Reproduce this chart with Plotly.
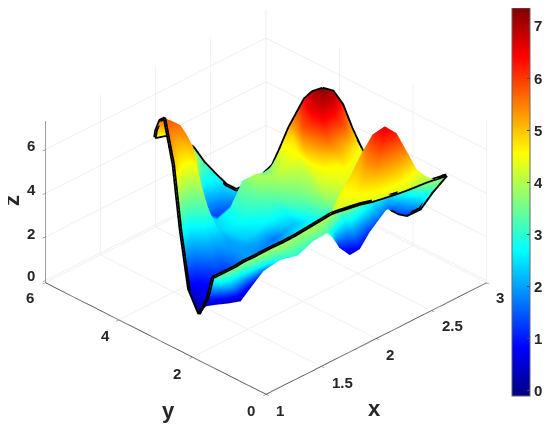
import plotly.graph_objects as go

# x and y of each surface point (hundredths), one line per column of the mesh
xy_columns = [
[116,193,134,261,139,299,144,342,151,386,164,444,186,534,188,552,189,566,190,572],
[116,187,134,249,140,283,151,336,160,387,173,448,189,522,191,529,195,547,198,562],
[115,175,130,230,149,282,155,322,165,378,178,446,191,506,196,522,200,535,204,547],
[116,169,134,219,156,273,159,313,168,369,181,437,189,482,200,515,206,532,209,541],
[119,163,140,211,165,264,166,307,169,354,174,397,189,465,197,491,205,514,212,534],
[124,157,149,208,175,260,170,292,174,341,177,389,194,470,203,489,210,506,215,513],
[132,157,150,184,174,229,173,274,179,336,177,370,184,418,202,471,210,477,217,485],
[140,153,155,166,170,172,192,285,182,303,179,341,183,383,210,461,216,468,219,465],
[147,151,163,156,178,148,208,300,192,298,189,330,191,371,220,456,219,447,221,444],
[155,148,171,146,194,154,215,280,203,299,204,341,207,385,226,442,228,439,226,422],
[164,147,187,155,201,150,220,276,212,312,211,338,212,367,228,412,230,413,232,406],
[176,148,194,149,206,151,221,253,216,289,215,325,216,357,229,386,235,395,236,390],
[196,153,203,155,214,162,223,235,221,272,220,309,218,331,228,357,234,370,240,382],
[209,151,209,150,243,229,226,215,228,248,236,306,240,333,247,368,246,374,248,381],
[212,143,224,170,251,225,227,194,229,236,236,276,237,306,241,325,250,351,255,360],
[217,136,238,185,255,210,230,175,233,213,239,257,240,279,242,298,247,318,255,339],
[221,130,256,205,267,219,236,173,239,202,246,246,243,261,245,279,251,299,255,311],
[227,126,260,190,275,217,250,190,244,198,248,230,251,259,255,278,258,292,263,307],
[235,117,263,166,284,226,271,225,260,220,256,228,259,256,260,267,267,292,271,305],
[245,110,270,155,287,229,294,251,286,250,274,242,273,258,274,273,273,278,273,285],
[254,104,274,139,288,229,292,235,290,246,283,245,279,251,278,257,276,261,275,262],
[264,106,278,124,289,230,295,228,294,239,291,244,287,242,285,243,281,241,279,241],
[276,115,284,121,291,230,291,230,291,234,291,238,291,240,291,244,291,245,291,245],
[283,116,286,112,291,229,291,229,291,229,291,229,291,229,291,229,291,229,291,229],
[287,114,290,112,293,217,293,217,293,217,293,217,293,217,293,217,293,217,293,217],
[291,111,291,110,297,208,297,208,297,208,297,208,297,208,297,208,297,208,297,208],
[294,109,294,109,295,166,295,166,295,166,295,166,295,166,295,166,295,166,295,166],
[298,111,298,111,296,136,296,136,296,136,296,136,296,136,296,136,296,136,296,136],
[300,109,300,109,300,109,300,109,300,109,300,109,300,109,300,109,300,109,300,109],
]
z_columns = [
[3.2,1.2,.05,.7,2.9,5.0,5.8,5.5,4.9,4.5],
[3.3,1.6,.5,.9,2.6,4.4,5.7,5.3,4.8,4.5],
[3.5,2.0,.35,1.0,2.7,4.3,5.6,5.0,4.6,4.3],
[3.6,2.0,.3,1.1,2.7,4.2,5.4,4.6,4.2,4.0],
[3.7,2.0,.25,1.2,2.2,3.9,5.0,4.5,4.1,3.8],
[3.8,2.2,.8,1.6,2.1,3.2,3.8,3.5,3.3,3.2],
[3.85,2.8,1.7,2.0,2.0,2.4,2.4,1.6,2.5,2.8],
[3.9,3.3,2.8,1.8,2.3,2.5,2.5,1.3,2.2,2.5],
[3.95,3.5,3.0,1.7,2.5,2.8,2.9,1.6,2.2,2.4],
[4.0,3.6,3.2,2.2,2.8,3.3,3.6,2.7,2.6,2.7],
[4.0,3.6,3.3,2.3,3.2,3.7,4.0,3.2,3.0,3.1],
[4.0,3.7,3.3,2.6,3.3,3.6,3.9,3.5,3.45,3.6],
[4.0,3.9,2.8,2.9,3.3,3.7,3.9,4.0,4.2,4.3],
[4.1,4.15,1.0,3.5,3.8,4.1,4.6,4.8,5.0,5.1],
[4.2,4.5,.5,3.6,4.1,4.5,5.0,5.8,6.1,6.4],
[4.25,4.8,.8,3.7,4.2,4.6,5.3,6.0,6.6,6.9],
[4.3,5.3,1.2,3.8,4.3,4.6,5.6,6.4,6.9,7.3],
[4.3,6.1,1.6,3.5,4.3,4.6,5.4,6.3,6.8,7.0],
[4.3,6.6,1.7,2.9,3.9,4.4,5.0,5.8,6.0,6.2],
[4.3,6.2,1.65,1.6,2.5,3.8,4.4,4.7,5.0,5.2],
[4.3,5.4,1.6,1.6,2.1,3.1,3.6,3.9,4.1,4.3],
[4.2,4.6,1.55,1.4,1.7,2.1,2.5,2.7,2.85,3.0],
[4.0,4.2,1.5,1.5,1.5,1.5,1.55,1.55,1.6,1.6],
[3.95,4.1,1.5,1.5,1.5,1.5,1.5,1.5,1.5,1.5],
[3.95,3.95,1.4,1.4,1.4,1.4,1.4,1.4,1.4,1.4],
[3.95,3.95,1.3,1.3,1.3,1.3,1.3,1.3,1.3,1.3],
[3.95,3.95,2.0,2.0,2.0,2.0,2.0,2.0,2.0,2.0],
[3.9,3.9,3.0,3.0,3.0,3.0,3.0,3.0,3.0,3.0],
[3.9,3.9,3.9,3.9,3.9,3.9,3.9,3.9,3.9,3.9],
]
x_ticks = [1, 1.5, 2, 2.5, 3]
y_ticks = [0, 2, 4, 6]
z_ticks = [0, 2, 4, 6]
bar_ticks = [0, 1, 2, 3, 4, 5, 6, 7]

X = [[c[2 * r] / 100 for c in xy_columns] for r in range(10)]
Y = [[c[2 * r + 1] / 100 for c in xy_columns] for r in range(10)]
Z = [[c[r] for c in z_columns] for r in range(10)]

jet = [[0, 'rgb(0,0,130)'], [.125, 'rgb(0,0,255)'], [.375, 'rgb(0,255,255)'],
       [.625, 'rgb(255,255,0)'], [.875, 'rgb(255,0,0)'], [1, 'rgb(128,0,0)']]
FONT = 'Liberation Sans'
INK = '#262626'
W, H = 542, 419

fig = go.Figure()
fig.add_trace(go.Surface(
    x=X, y=Y, z=Z, colorscale=jet, cmin=-.1, cmax=7.35, hoverinfo='skip',
    lighting=dict(ambient=1, diffuse=0, specular=0, roughness=1, fresnel=0),
    colorbar=dict(x=504 / W, xanchor='left', xpad=0, ypad=0, y=1, yanchor='top',
                  lenmode='pixels', len=388, thicknessmode='pixels', thickness=18,
                  tickvals=bar_ticks, ticktext=[str(i) for i in bar_ticks], ticks='inside', ticklen=3,
                  tickcolor='#444', outlinecolor='#666', outlinewidth=1,
                  tickfont=dict(family=FONT, size=15, color=INK, weight='bold'))))
edges = [(X[0], Y[0], Z[0]), (X[9], Y[9], Z[9]),
         ([r[0] for r in X], [r[0] for r in Y], [r[0] for r in Z])]
for xs, ys, zs in edges:
    fig.add_trace(go.Scatter3d(x=xs, y=ys, z=zs, mode='lines', line=dict(color='black', width=7),
                               showlegend=False, hoverinfo='skip'))

def ax(rng, tv):
    return dict(range=rng, tickvals=tv, showbackground=False, showgrid=True, gridcolor='#e0e0e0', gridwidth=1,
                zeroline=False, showline=True, linecolor='#555', linewidth=2, ticks='outside', ticklen=4,
                tickcolor='#555', showspikes=False, title=dict(text=''), showticklabels=False)

labels = [('1', 280, 410), ('1.5', 342, 382), ('2', 390, 354), ('2.5', 452, 325), ('3', 500, 297),
          ('0', 251, 410), ('2', 177, 373), ('4', 105, 335), ('6', 30, 297),
          ('6', 31, 145), ('4', 31, 189), ('2', 31, 233), ('0', 31, 275)]
ann = [dict(text=f'<b>{t}</b>', x=(px - 8) / W, y=1 - (py - 8) / H, xref='paper', yref='paper', showarrow=False,
            xanchor='center', yanchor='middle', font=dict(family=FONT, size=15, color=INK)) for t, px, py in labels]
ann += [dict(text='<b>x</b>', x=(374 - 8) / W, y=1 - (408 - 8) / H, xref='paper', yref='paper', showarrow=False,
             xanchor='center', yanchor='middle', font=dict(family=FONT, size=22, color=INK)),
        dict(text='<b>y</b>', x=(169 - 8) / W, y=1 - (410 - 8) / H, xref='paper', yref='paper', showarrow=False,
             xanchor='center', yanchor='middle', font=dict(family=FONT, size=22, color=INK)),
        dict(text='<b>z</b>', x=(11 - 8) / W, y=1 - (201 - 8) / H, xref='paper', yref='paper', showarrow=False,
             xanchor='center', yanchor='middle', textangle=-90, font=dict(family=FONT, size=22, color=INK))]

fig.update_layout(
    width=W, height=H, margin=dict(l=0, r=0, t=0, b=0, autoexpand=False), paper_bgcolor='white', showlegend=False,
    annotations=ann,
    scene=dict(domain=dict(x=[0, 516 / W], y=[31 / H, 1]), aspectmode='manual',
               aspectratio=dict(x=1.608, y=1.608, z=.965),
               xaxis=ax([1, 3], x_ticks), yaxis=ax([0, 6], y_ticks), zaxis=ax([-.1, 7.3], z_ticks),
               camera=dict(projection=dict(type='orthographic'), eye=dict(x=-.79, y=-.79, z=.655),
                           center=dict(x=0, y=0, z=0), up=dict(x=0, y=0, z=1))))
fig.write_html("out.html")
